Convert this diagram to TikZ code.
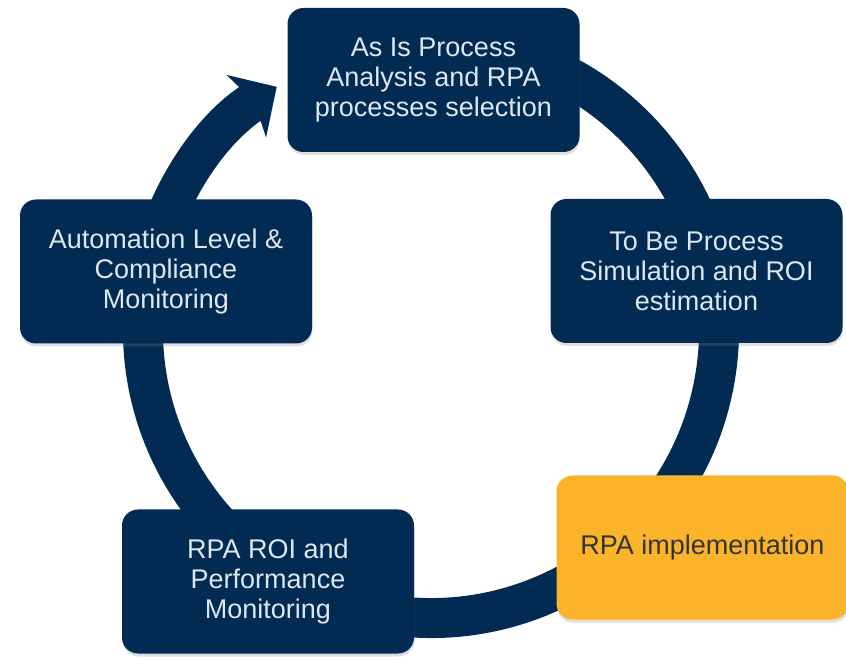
\documentclass[tikz,border=0pt]{standalone}
\usepackage{fontspec}
\setmainfont{Liberation Sans}
\usetikzlibrary{arrows.meta,shadows}
\definecolor{navy}{RGB}{2,43,84}
\definecolor{amber}{RGB}{251,180,42}
\definecolor{paletext}{RGB}{222,230,238}
\tikzset{
  stage/.style={draw=none, rounded corners=16pt, minimum width=292pt,
    minimum height=144pt, align=center, font=\fontsize{27}{30}\selectfont,
    drop shadow={shadow xshift=0.5pt, shadow yshift=-3pt, opacity=0.25}},
  navystage/.style={stage, fill=navy, text=paletext},
  amberstage/.style={stage, fill=amber, text=black!80},
}
\begin{document}
\begin{tikzpicture}[x=1pt,y=1pt]
  \useasboundingbox (0,0) rectangle (846,659);
  \coordinate (hub) at (431,329);
  % the cycle ring, it runs behind the stages
  \draw[navy, line width=40pt,
    -{Stealth[length=36pt,width=74pt,inset=9pt,line width=0pt]}]
    ([shift={(80:288)}]hub) arc[start angle=80, end angle=-237.6, radius=288];
  \def \Stages{
    asis/433.5/579/navystage/{As Is Process\\Analysis and RPA\\processes selection},
    tobe/696.5/388/navystage/{To Be Process\\Simulation and ROI\\estimation},
    impl/702.5/111.5/amberstage/{RPA implementation},
    perf/268/77.5/navystage/{RPA ROI and\\Performance\\Monitoring},
    auto/166/387.5/navystage/{Automation Level \&\\Compliance\\Monitoring}}
  \foreach \id / \x / \y / \st / \lb in \Stages{
    \node[\st] (\id) at (\x, \y) {\lb};
  }
\end{tikzpicture}
\end{document}
